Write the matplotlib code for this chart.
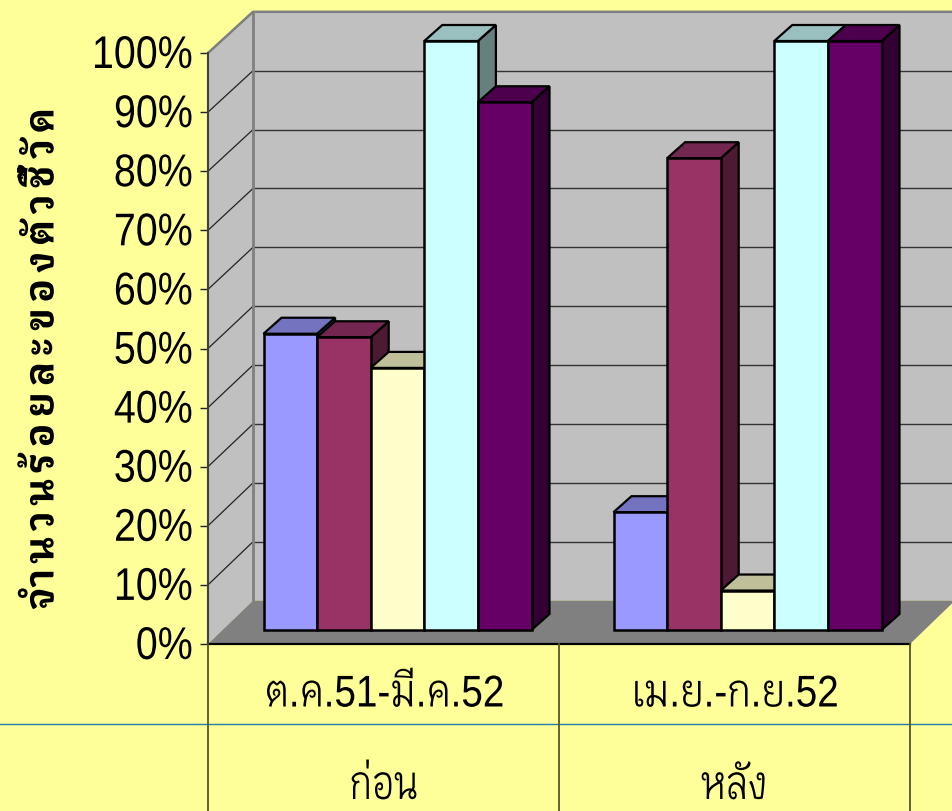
import matplotlib
matplotlib.use("Agg")
import matplotlib.pyplot as plt
from matplotlib.patches import Polygon
from matplotlib.patheffects import AbstractPathEffect
from matplotlib.transforms import Affine2D

W, H = 953, 811
categories = ["ต.ค.51-มี.ค.52", "เม.ย.-ก.ย.52"]
groups = ["ก่อน", "หลัง"]
y_title = "\u200a\u200a".join(["จำ", "น", "ว", "น", "ร้", "อ", "ย", "ล", "ะ", "ข", "อ", "ง", "ตั", "ว", "ชี้", "วั", "ด"])
y_ticks = [0, 10, 20, 30, 40, 50, 60, 70, 80, 90, 100]
# one list per bar colour, values for the two periods
s1 = [50.3, 20.0]
s2 = [49.7, 80.1]
s3 = [44.5, 6.7]
s4 = [100, 100]
s5 = [89.6, 100]
series = [s1, s2, s3, s4, s5]
front = ["#9999FF", "#993366", "#FFFFCC", "#CCFFFF", "#660066"]
top = ["#7373BF", "#732650", "#BFBF99", "#99BFBF", "#4D004D"]
side = ["#4D4D80", "#4D1A33", "#808066", "#668080", "#330033"]

latin = ["Liberation Sans", "Krub"]
thai_bold = ["Krub", "Liberation Sans"]


class Squeeze(AbstractPathEffect):
    # narrow the text along its own direction, the original font is condensed
    def __init__(self, sx, anchor="center"):
        super().__init__()
        self.sx = sx
        self.anchor = anchor

    def draw_path(self, renderer, gc, tpath, affine, rgbFace=None):
        box = tpath.get_extents()
        px = box.x1 if self.anchor == "right" else (box.x0 + box.x1) / 2
        squeeze = Affine2D().translate(-px, 0).scale(self.sx, 1).translate(px, 0)
        renderer.draw_path(gc, tpath, squeeze + affine, rgbFace)


fig = plt.figure(figsize=(W / 100, H / 100), dpi=100, facecolor="#FFFF99")

# pixel axes for the box: walls, floor, grid and table lines
bg = fig.add_axes([0, 0, 1, 1])
bg.set_xlim(0, W)
bg.set_ylim(H, 0)
bg.axis("off")

x0, x1 = 208, 910
y0, y100 = 644, 53
ddx = 45
back0, back100 = 600.6, 11.8


def front_y(v):
    return y0 - (y0 - y100) * v / 100


def back_y(v):
    return back0 - (back0 - back100) * v / 100


bg.add_patch(Polygon([(x0, y100), (x0 + ddx, back100), (W + 2, back100),
                      (W + 2, back0), (x0 + ddx, back0), (x0, y0)],
                     fc="#C0C0C0", ec="none"))
bg.add_patch(Polygon([(x0, y0), (x1, y0), (x1 + ddx, back0), (x0 + ddx, back0)],
                     fc="#808080", ec="none"))

for v in y_ticks:
    y = front_y(v)
    bg.plot([x0 - 8, x0], [y, y], color="#222222", lw=1, solid_capstyle="butt")
    if v == 0:
        continue
    bg.plot([x0, x0 + ddx], [y, back_y(v)], color="#222222", lw=0.9)
    if v < 100:
        bg.plot([x0 + ddx, W], [back_y(v), back_y(v)], color="#333333", lw=1)

for v in y_ticks:
    bg.text(193, front_y(v) + 3, f"{v}%", ha="right", va="center",
            fontsize=33, family=latin, color="black",
            path_effects=[Squeeze(0.86, "right")])

bg.plot([x0 + ddx, x0 + ddx], [back100, back0], color="#808080", lw=2)
bg.plot([x0, x0 + ddx, W], [y100, back100, back100], color="#808080", lw=1.8)
bg.plot([x0, x0], [y100, y0], color="#404040", lw=1.5)

# category table under the chart
bg.plot([0, W], [723.5, 723.5], color="#1F7FA8", lw=1)
bg.plot([x0, x1], [y0, y0], color="black", lw=1.6)
for x in [x0, (x0 + x1) / 2, x1]:
    bg.plot([x, x], [y0, H], color="#55552A", lw=1.3)
for i in range(2):
    cx = x0 + (x1 - x0) * (i + 0.5) / 2
    bg.text(cx + 1, 695, categories[i], ha="center", va="center",
            fontsize=32, family=latin, color="black",
            path_effects=[Squeeze(0.87)])
    bg.text(cx, 787, groups[i], ha="center", va="center",
            fontsize=33, family=latin, color="black",
            path_effects=[Squeeze(0.8)])

bg.text(42, 360, y_title, rotation=90, ha="center", va="center",
        fontsize=29, fontweight="bold", family=thai_bold, color="black",
        path_effects=[Squeeze(0.93)])

# bars sit in their own axes, half way back into the box
ax = fig.add_axes([222.5 / W, 1 - 630 / H, 700 / W, 589 / H])
ax.set_xlim(0, 2)
ax.set_ylim(0, 100)
ax.patch.set_alpha(0)
ax.axis("off")

bar_w = 53.6 / 350
depth_x = 18 / 350
depth_y = 16 / 5.89
z = 5
for c in range(2):
    for i, vals in enumerate(series):
        left = c + 0.5 + (i - 2.5) * bar_w
        right = left + bar_w
        v = vals[c]
        ax.add_patch(Polygon([(right, 0), (right + depth_x, depth_y),
                              (right + depth_x, v + depth_y), (right, v)],
                             fc=side[i], ec="black", lw=1.6, zorder=z, clip_on=False))
        ax.add_patch(Polygon([(left, v), (right, v), (right + depth_x, v + depth_y),
                              (left + depth_x, v + depth_y)],
                             fc=top[i], ec="black", lw=1.6, zorder=z + 1, clip_on=False))
        ax.bar(left, v, width=bar_w, align="edge", color=front[i], edgecolor="black",
               linewidth=1.8, zorder=z + 2, clip_on=False)
        z += 3

fig.savefig("out.png", dpi=100, facecolor=fig.get_facecolor())
